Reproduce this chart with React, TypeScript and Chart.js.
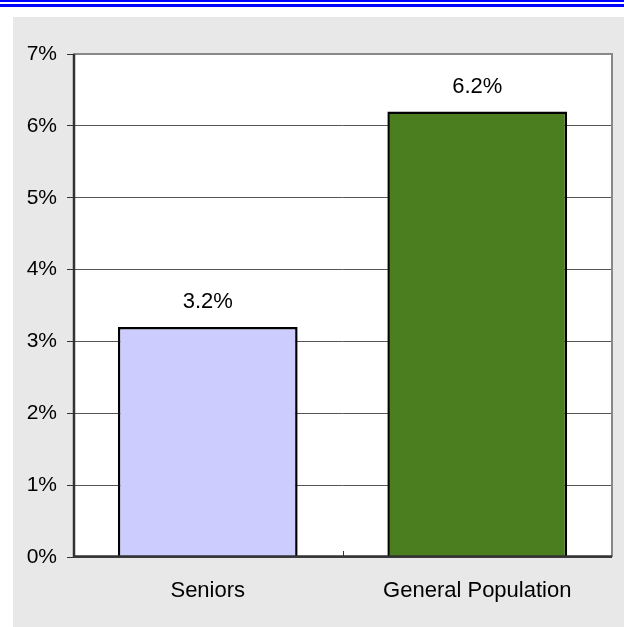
import React, { useEffect, useRef } from "react";
import { Chart, registerables } from "chart.js";

Chart.register(...registerables);

const categories = ["Seniors", "General Population"];
const values = [3.2, 6.2];
const barColors = ["#ccccff", "#4a7e1e"];
const yTicks = [0, 1, 2, 3, 4, 5, 6, 7];

const FONT = "'Liberation Sans', Arial, sans-serif";

const framePlugin = {
  id: "frame",
  beforeDraw(chart: any) {
    const { ctx, width, height, chartArea } = chart;
    ctx.save();
    ctx.fillStyle = "#ffffff";
    ctx.fillRect(0, 0, width, height);
    ctx.fillStyle = "#0000ff";
    ctx.fillRect(0, 0, width, 2);
    ctx.fillRect(0, 4, width, 3);
    ctx.fillStyle = "#e8e8e8";
    ctx.fillRect(13, 17, width - 13, height - 17);
    ctx.fillStyle = "#ffffff";
    ctx.fillRect(chartArea.left, chartArea.top, chartArea.right - chartArea.left, chartArea.bottom - chartArea.top);
    ctx.restore();
  },
  afterDatasetsDraw(chart: any) {
    const { ctx, chartArea } = chart;
    const xs = chart.scales.x;
    const { left, right, top, bottom } = chartArea;
    ctx.save();
    // top & right border
    ctx.strokeStyle = "#888888";
    ctx.lineWidth = 2;
    ctx.beginPath();
    ctx.moveTo(left, top);
    ctx.lineTo(right, top);
    ctx.lineTo(right, bottom);
    ctx.stroke();
    // axes
    ctx.strokeStyle = "#333333";
    ctx.lineWidth = 2.5;
    ctx.beginPath();
    ctx.moveTo(left + 1, top);
    ctx.lineTo(left + 1, bottom);
    ctx.moveTo(left, bottom - 0.5);
    ctx.lineTo(right, bottom - 0.5);
    ctx.stroke();
    // inward category divider tick
    ctx.lineWidth = 1;
    for (let i = 0; i < categories.length - 1; i++) {
      const x = Math.round((xs.getPixelForValue(i) + xs.getPixelForValue(i + 1)) / 2) + 0.5;
      ctx.beginPath();
      ctx.moveTo(x, bottom);
      ctx.lineTo(x, bottom - 6);
      ctx.stroke();
    }
    // data labels
    const meta = chart.getDatasetMeta(0);
    ctx.fillStyle = "#000000";
    ctx.font = `22px ${FONT}`;
    ctx.textAlign = "center";
    ctx.textBaseline = "middle";
    meta.data.forEach((bar: any, i: number) => {
      ctx.fillText(values[i].toFixed(1) + "%", bar.x, bar.y - 25);
    });
    ctx.restore();
  },
};

export default function App() {
  const ref = useRef<HTMLCanvasElement | null>(null);
  useEffect(() => {
    if (!ref.current) return;
    const chart = new Chart(ref.current, {
      type: "bar",
      data: {
        labels: categories,
        datasets: [
          {
            data: values,
            backgroundColor: barColors,
            borderColor: "#000000",
            borderWidth: 2.5,
            barPercentage: 0.667,
            categoryPercentage: 1,
          },
        ],
      },
      plugins: [framePlugin],
      options: {
        responsive: false,
        animation: false,
        devicePixelRatio: 1,
        layout: { padding: { left: 0, top: 54, right: 12, bottom: 0 } },
        plugins: { legend: { display: false }, tooltip: { enabled: false } },
        scales: {
          x: {
            grid: { display: false },
            border: { display: false },
            ticks: {
              color: "#000",
              font: { family: FONT, size: 22 },
              padding: 13,
            },
            afterFit(scale: any) {
              scale.height = 70;
            },
          },
          y: {
            min: 0,
            max: 7,
            afterBuildTicks(scale: any) {
              scale.ticks = yTicks.map((v) => ({ value: v }));
            },
            grid: {
              color: "#555555",
              lineWidth: 1,
              tickLength: 6,
              drawTicks: true,
              tickColor: "#333333",
            },
            border: { display: false },
            ticks: {
              color: "#000",
              font: { family: FONT, size: 21 },
              padding: 10,
              callback: (v: any) => v + "%",
            },
            afterFit(scale: any) {
              scale.width = 73;
            },
          },
        },
      },
    });
    return () => chart.destroy();
  }, []);
  return (
    <div style={{ position: "fixed", left: 0, top: 0, width: 624, height: 627 }}>
      <canvas ref={ref} width={624} height={627} style={{ width: 624, height: 627 }} />
    </div>
  );
}
